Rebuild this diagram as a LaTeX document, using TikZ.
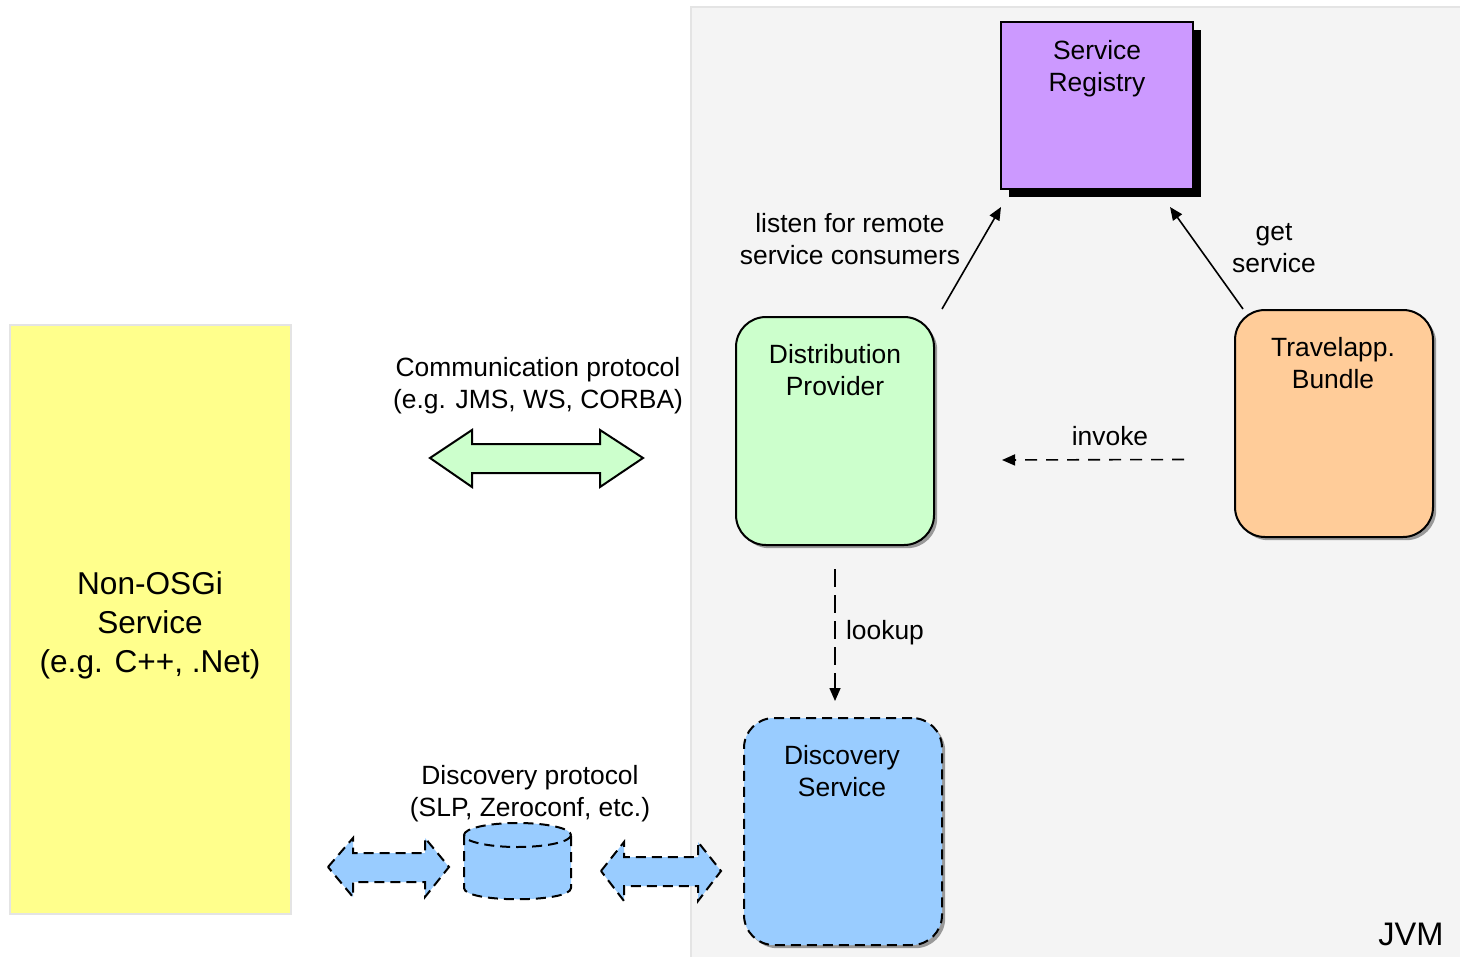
\documentclass[tikz,border=0pt]{standalone}
\usepackage{fontspec}
\setmainfont{Liberation Sans}
\usetikzlibrary{arrows.meta,shadows}
\definecolor{jvmbg}{HTML}{F4F4F4}
\definecolor{jvmline}{HTML}{E4E4E4}
\definecolor{regfill}{HTML}{CC99FF}
\definecolor{distfill}{HTML}{CCFFCC}
\definecolor{appfill}{HTML}{FFCC99}
\definecolor{discfill}{HTML}{99CCFF}
\definecolor{extfill}{HTML}{FFFF8C}
\tikzset{
  txt/.style={font=\fontsize{13.2}{16}\selectfont, align=center, inner sep=0pt},
  bigtxt/.style={font=\fontsize{15.8}{19.5}\selectfont, align=center, inner sep=0pt},
  bundle/.style={draw=black, line width=1pt, rounded corners=15pt, inner sep=0pt,
    minimum width=99pt, minimum height=114pt,
    drop shadow={shadow xshift=1.6pt, shadow yshift=-1.6pt, fill=black!55, opacity=0.7}},
  dashbox/.style={dash pattern=on 5pt off 3pt},
  conn/.style={line width=0.8pt, -{Triangle[length=6.5pt,width=5.5pt]}},
  dashconn/.style={conn, dash pattern=on 6pt off 4.5pt},
  fatarrow/.style={line width=1pt, line join=miter},
}
\begin{document}
\begin{tikzpicture}[x=0.5pt,y=-0.5pt]
\useasboundingbox (0,0) rectangle (1460,957);

% JVM area
\draw[fill=jvmbg, draw=jvmline, line width=1pt] (691,7) rectangle (1462,960);
\node[font=\fontsize{16.3}{19}\selectfont, inner sep=0pt] (jvm) at (1411,934) {JVM};

% external, non-OSGi side
\node[draw=jvmline, fill=extfill, line width=1pt, minimum width=140.5pt, minimum height=294.5pt, inner sep=0pt]
  (ext) at (150.5,619.5) {};
\node[bigtxt] (extlabel) at (150,625) {Non-OSGi\\Service\\(e.g. C++, .Net)};

% service registry
\node[draw=black, fill=regfill, line width=1pt, minimum width=96pt, minimum height=83.5pt, inner sep=0pt,
  drop shadow={shadow xshift=4pt, shadow yshift=-4pt, fill=black, opacity=1}]
  (reg) at (1097,105.5) {};
\node[txt] (reglabel) at (1097,68.5) {Service\\Registry};

% bundles inside the JVM
\node[bundle, fill=distfill] (dist) at (835,431) {};
\node[txt] (distlabel) at (835,370.5) {Distribution\\Provider};

\node[bundle, fill=appfill, minimum height=113.5pt] (app) at (1334,423.5) {};
\node[txt] (applabel) at (1333,363.5) {Travelapp.\\Bundle};

\node[bundle, dashbox, fill=discfill, minimum height=113.5pt] (disc) at (843,831.5) {};
\node[txt] (disclabel) at (842,771.5) {Discovery\\Service};

% connectors
\coordinate (listenA) at ([shift={(7,-7)}]dist.north east);
\coordinate (listenB) at ([shift={(1,17)}]reg.south west);
\draw[conn] (listenA) -- (listenB);
\node[txt] (listenlabel) at (850,239.5) {listen for remote\\service consumers};

\coordinate (getA) at ([shift={(9,0)}]app.north west);
\coordinate (getB) at ([shift={(-24,17)}]reg.south east);
\draw[conn] (getA) -- (getB);
\node[txt] (getlabel) at (1274,248) {get\\service};

\coordinate (invA) at ([shift={(-50,36)}]app.west);
\coordinate (invB) at ([shift={(67,29)}]dist.east);
\draw[dashconn] (invA) -- (invB);
\node[txt] (invlabel) at (1110,436) {invoke};

\coordinate (lookA) at ([shift={(0,23)}]dist.south);
\coordinate (lookB) at ([shift={(-8,-16)}]disc.north);
\draw[dashconn, dash pattern=on 9pt off 4pt] (lookA) -- (lookB);
\node[txt] (looklabel) at (885,633) {lookup};

% communication protocol (green double arrow)
\draw[fatarrow, fill=distfill]
  (430,458) -- (472,430) -- (472,444) -- (600,444) -- (600,430) -- (643,458)
  -- (600,487) -- (600,473) -- (472,473) -- (472,487) -- cycle;
\node[txt] (commlabel) at (538,386) {Communication protocol\\(e.g. JMS, WS, CORBA)};

% discovery protocol (blue dashed arrows and store)
\draw[fatarrow, dashbox, fill=discfill]
  (328,867) -- (353,838) -- (353,853) -- (425,853) -- (425,838) -- (449,867)
  -- (425,897) -- (425,882) -- (353,882) -- (353,897) -- cycle;
\draw[fatarrow, dashbox, fill=discfill]
  (601,871) -- (624,842) -- (624,857) -- (698,857) -- (698,842) -- (721,871)
  -- (698,901) -- (698,886) -- (624,886) -- (624,901) -- cycle;

\fill[discfill] (464,835) -- (464,888) .. controls (464,903) and (571,903) .. (571,888) -- (571,835) -- cycle;
\fill[discfill] (517.5,835) ellipse [x radius=53.5, y radius=12];
\draw[fatarrow, dashbox] (464,835) -- (464,888) .. controls (464,903) and (571,903) .. (571,888) -- (571,835);
\draw[fatarrow, dashbox] (517.5,835) ellipse [x radius=53.5, y radius=12];
\node[txt] (disclabel2) at (530,794) {Discovery protocol\\(SLP, Zeroconf, etc.)};
\end{tikzpicture}
\end{document}
